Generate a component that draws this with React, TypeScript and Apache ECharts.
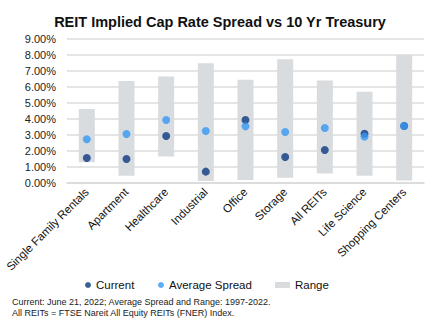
import React, { useEffect, useRef } from "react";
import * as echarts from "echarts";

const categories = [
  "Single Family Rentals",
  "Apartment",
  "Healthcare",
  "Industrial",
  "Office",
  "Storage",
  "All REITs",
  "Life Science",
  "Shopping Centers",
];
const currentValues = [1.56, 1.5, 2.94, 0.71, 3.94, 1.62, 2.06, 3.08, 3.56];
const averageValues = [2.73, 3.06, 3.94, 3.25, 3.54, 3.19, 3.44, 2.9, 3.56];
const rangeLow = [1.3, 0.46, 1.65, 0.12, 0.19, 0.33, 0.6, 0.46, 0.15];
const rangeHigh = [4.62, 6.37, 6.65, 7.48, 6.46, 7.73, 6.4, 5.7, 8.0];
const footnotes = [
  "Current: June 21, 2022; Average Spread and Range: 1997-2022.",
  "All REITs = FTSE Nareit All Equity REITs (FNER) Index.",
];

const FONT = "'Liberation Sans', Arial, sans-serif";
const DARK = "#0b3a80";
const LIGHT = "#3597f5";
const GRAY = "#d9dcdf";

export default function App() {
  const ref = useRef<HTMLDivElement>(null);
  useEffect(() => {
    if (!ref.current) return;
    const chart = echarts.init(ref.current, undefined, { renderer: "svg" });
    const legendText = { fontSize: 11.5, color: "#111", fontFamily: FONT };
    chart.setOption({
      animation: false,
      backgroundColor: "#ffffff",
      textStyle: { fontFamily: FONT },
      title: {
        text: "REIT Implied Cap Rate Spread vs 10 Yr Treasury",
        left: "center",
        top: 9,
        textStyle: { fontSize: 14.5, fontWeight: "bold", color: "#111", fontFamily: FONT },
      },
      grid: { left: 67, right: 16, top: 39, bottom: 139, containLabel: false },
      legend: [
        {
          data: [{ name: "Current", icon: "circle" }],
          left: 80,
          top: 274,
          itemWidth: 6,
          itemHeight: 6,
          textStyle: legendText,
        },
        {
          data: [{ name: "Average Spread", icon: "circle" }],
          left: 153,
          top: 274,
          itemWidth: 6,
          itemHeight: 6,
          textStyle: legendText,
        },
        {
          data: [{ name: "Range", icon: "rect" }],
          left: 270,
          top: 274,
          itemWidth: 15,
          itemHeight: 6,
          textStyle: legendText,
        },
      ],
      xAxis: {
        type: "category",
        data: categories,
        axisLine: { show: true, lineStyle: { color: "#d9d9d9", width: 1.5 } },
        axisTick: { show: false },
        axisLabel: {
          interval: 0,
          rotate: 45,
          fontSize: 11.5,
          color: "#111",
          margin: 7,
          fontFamily: FONT,
        },
      },
      yAxis: {
        type: "value",
        min: 0,
        max: 9,
        interval: 1,
        axisLine: { show: false },
        axisTick: { show: false },
        splitLine: { lineStyle: { color: "#dcdcdc", width: 1.5 } },
        axisLabel: {
          fontSize: 11,
          color: "#222",
          margin: 11,
          fontFamily: FONT,
          formatter: (v: number) => v.toFixed(2) + "%",
        },
      },
      series: [
        {
          name: "RangeBase",
          type: "bar",
          stack: "range",
          barWidth: 16,
          itemStyle: { color: "transparent" },
          data: rangeLow,
          silent: true,
        },
        {
          name: "Range",
          type: "bar",
          stack: "range",
          barWidth: 16,
          itemStyle: { color: GRAY },
          data: rangeHigh.map((h, i) => +(h - rangeLow[i]).toFixed(2)),
        },
        {
          name: "Current",
          type: "scatter",
          symbol: "circle",
          symbolSize: 8,
          itemStyle: { color: DARK },
          data: currentValues,
          z: 3,
        },
        {
          name: "Average Spread",
          type: "scatter",
          symbol: "circle",
          symbolSize: 8,
          itemStyle: { color: LIGHT },
          data: averageValues,
          z: 4,
        },
      ],
      graphic: footnotes.map((t, i) => ({
        type: "text",
        left: 12,
        top: 297 + i * 11,
        style: { text: t, fontSize: 9, fill: "#222", fontFamily: FONT },
      })),
    });
    return () => chart.dispose();
  }, []);
  return (
    <div
      ref={ref}
      style={{ position: "fixed", left: 0, top: 0, width: 440, height: 322, background: "#fff" }}
    />
  );
}
